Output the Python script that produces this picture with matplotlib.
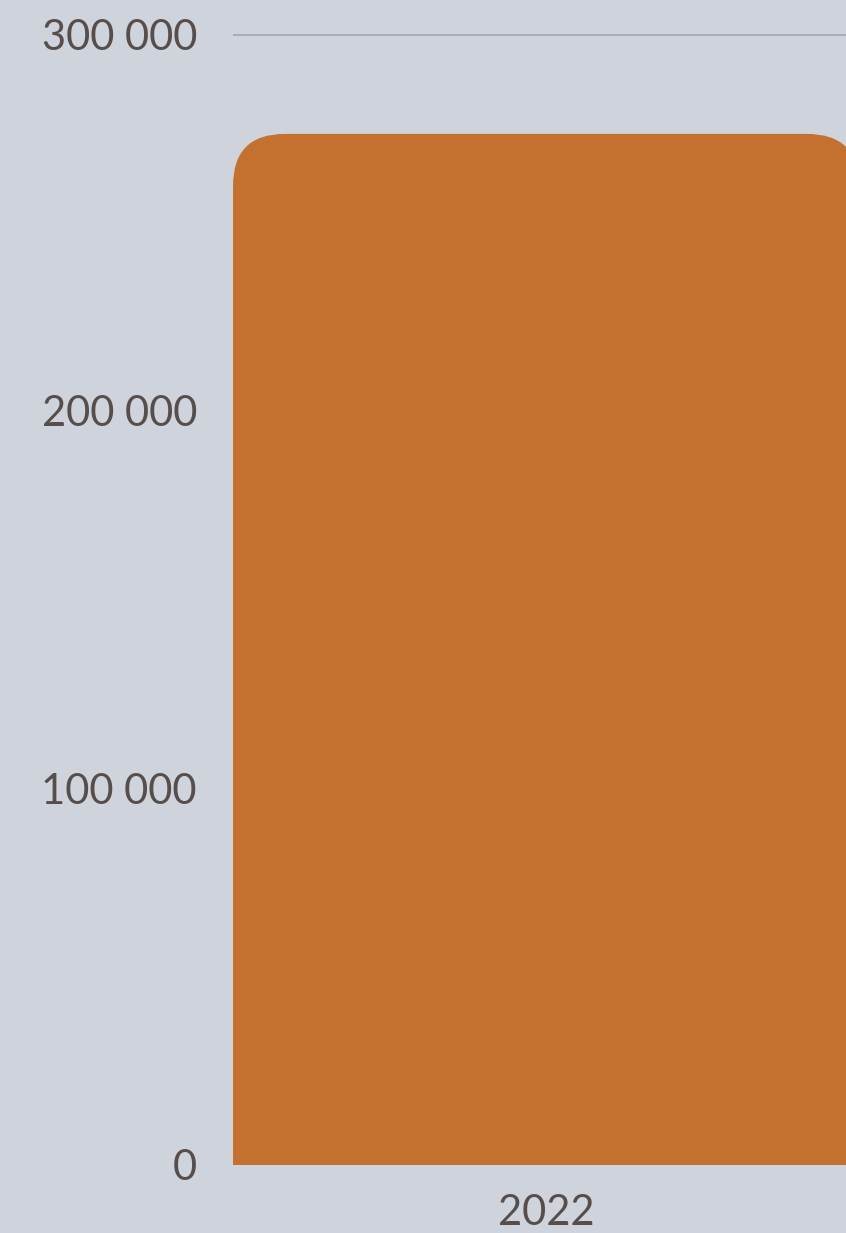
import numpy as np
import matplotlib.pyplot as plt
from matplotlib.patches import FancyBboxPatch, Rectangle

# data
years = ['2022']
values = [273500]
yticks = [0, 100000, 200000, 300000]

bg = '#CED3DC'
bar_color = '#C4702F'
text_color = '#574E4B'
grid_color = '#A9AAB3'

plt.rcParams['font.family'] = ['Lato', 'DejaVu Sans']

fig = plt.figure(figsize=(8.46, 12.33), dpi=100, facecolor=bg)
# axes runs past the right edge, like the reference crop
ax = fig.add_axes([233 / 846, 68 / 1233, 626 / 846, 1131 / 1233])
ax.set_facecolor(bg)

ax.set_ylim(0, 300000)
ax.set_xlim(-0.5, len(years) - 0.5)

for t in yticks:
    ax.axhline(t, color=grid_color, lw=2, zorder=0)

# rounded top corners (radius ~52 px)
rx = 52 / 626
ry = 52 * 300000 / 1131
for i, v in enumerate(values):
    box = FancyBboxPatch((i - 0.5, 0), 1.0, v,
                         boxstyle='round,pad=0,rounding_size=%f' % rx,
                         mutation_aspect=ry / rx,
                         facecolor=bar_color, edgecolor='none', zorder=2)
    ax.add_patch(box)
    ax.add_patch(Rectangle((i - 0.5, 0), 1.0, v / 2,
                           facecolor=bar_color, edgecolor='none', zorder=2))

ax.set_yticks(yticks)
ax.set_yticklabels([f'{t:,}'.replace(',', ' ') for t in yticks])
ax.set_xticks(range(len(years)))
ax.set_xticklabels(years)
ax.tick_params(axis='y', length=0, pad=26, labelsize=30, labelcolor=text_color)
ax.tick_params(axis='x', length=0, pad=21, labelsize=30, labelcolor=text_color)
for s in ax.spines.values():
    s.set_visible(False)

fig.savefig('out.png', dpi=100, facecolor=bg)
